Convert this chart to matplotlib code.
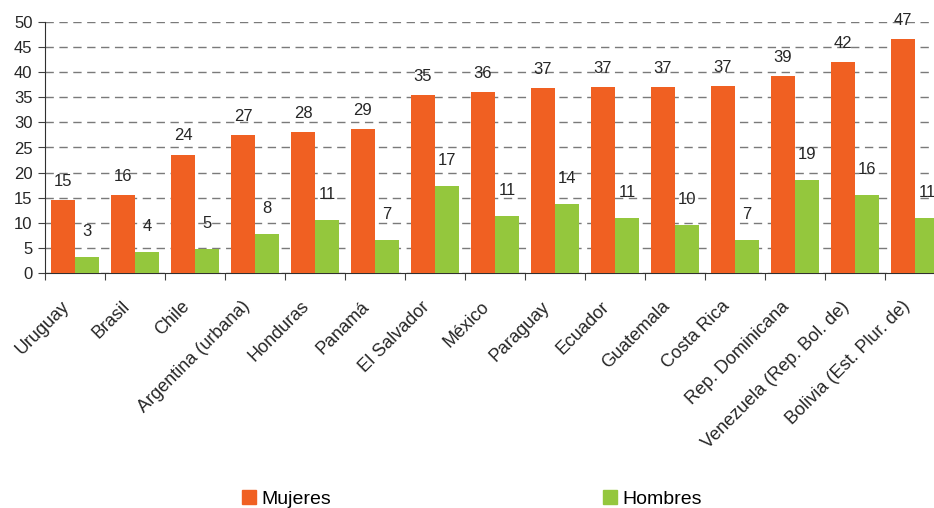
import numpy as np
import matplotlib
matplotlib.use('Agg')
import matplotlib.pyplot as plt
from matplotlib.patches import Patch
from matplotlib.transforms import ScaledTranslation

paises = ['Uruguay', 'Brasil', 'Chile', 'Argentina (urbana)', 'Honduras', 'Panamá',
          'El Salvador', 'México', 'Paraguay', 'Ecuador', 'Guatemala', 'Costa Rica',
          'Rep. Dominicana', 'Venezuela (Rep. Bol. de)', 'Bolivia (Est. Plur. de)']
mujeres = [14.6, 15.6, 23.6, 27.4, 28.0, 28.6, 35.4, 36.0, 36.8, 37.0, 37.0, 37.2, 39.2, 42.0, 46.6]
hombres = [3.2, 4.2, 4.7, 7.8, 10.6, 6.6, 17.4, 11.4, 13.8, 11.0, 9.6, 6.6, 18.6, 15.6, 11.0]

naranja = '#F06022'
verde = '#94C73D'
texto = '#262626'

plt.rcParams['font.family'] = ['Liberation Sans', 'DejaVu Sans']

fig = plt.figure(figsize=(9.34, 5.08), dpi=100)
ax = fig.add_axes([45 / 934, 235 / 508, 900 / 934, 251 / 508])

x = np.arange(len(paises))
w = 0.4
b1 = ax.bar(x - w / 2, mujeres, w, color=naranja, zorder=3)
b2 = ax.bar(x + w / 2, hombres, w, color=verde, zorder=3)

for rect, v in zip(b1, mujeres):
    ax.annotate(f'{v:.0f}', (rect.get_x() + rect.get_width() / 2, v),
                xytext=(0, 8), textcoords='offset points',
                ha='center', va='bottom', fontsize=12, color=texto, zorder=4)
for rect, v in zip(b2, hombres):
    ax.annotate(f'{v:.0f}', (rect.get_x() + rect.get_width() / 2, v),
                xytext=(0, 13), textcoords='offset points',
                ha='center', va='bottom', fontsize=12, color=texto, zorder=4)

ax.set_xlim(-0.5, len(paises) - 0.5)
ax.set_ylim(0, 50)
ax.set_yticks(np.arange(0, 51, 5))
ax.yaxis.grid(True, linestyle=(0, (6, 4)), color='#7a7a7a', linewidth=1, zorder=0)

# marcas entre grupos; los nombres van aparte, girados 45 grados
ax.set_xticks(np.arange(-0.5, len(paises), 1))
ax.set_xticklabels([])
ax.tick_params(axis='x', length=5, color='#404040', direction='out')
ax.tick_params(axis='y', length=5, color='#404040', labelsize=12, labelcolor=texto, pad=4)

desplaza = ScaledTranslation(-0.08, -0.31, fig.dpi_scale_trans)
for xi, nombre in zip(x, paises):
    ax.text(xi, 0, nombre, transform=ax.get_xaxis_transform() + desplaza,
            rotation=45, ha='right', va='center', rotation_mode='anchor',
            fontsize=13, color=texto)

for s in ['top', 'right']:
    ax.spines[s].set_visible(False)
ax.spines['left'].set_color('#303030')
ax.spines['bottom'].set_color('#303030')

handles = [Patch(color=naranja, label='Mujeres'), Patch(color=verde, label='Hombres')]
fig.legend(handles=handles, loc='center', bbox_to_anchor=(472 / 934, 1 - 499 / 508),
           ncol=2, frameon=False, fontsize=14, handlelength=0.72, handleheight=0.7,
           handletextpad=0.26, columnspacing=14)

fig.savefig('out.png', dpi=100)
